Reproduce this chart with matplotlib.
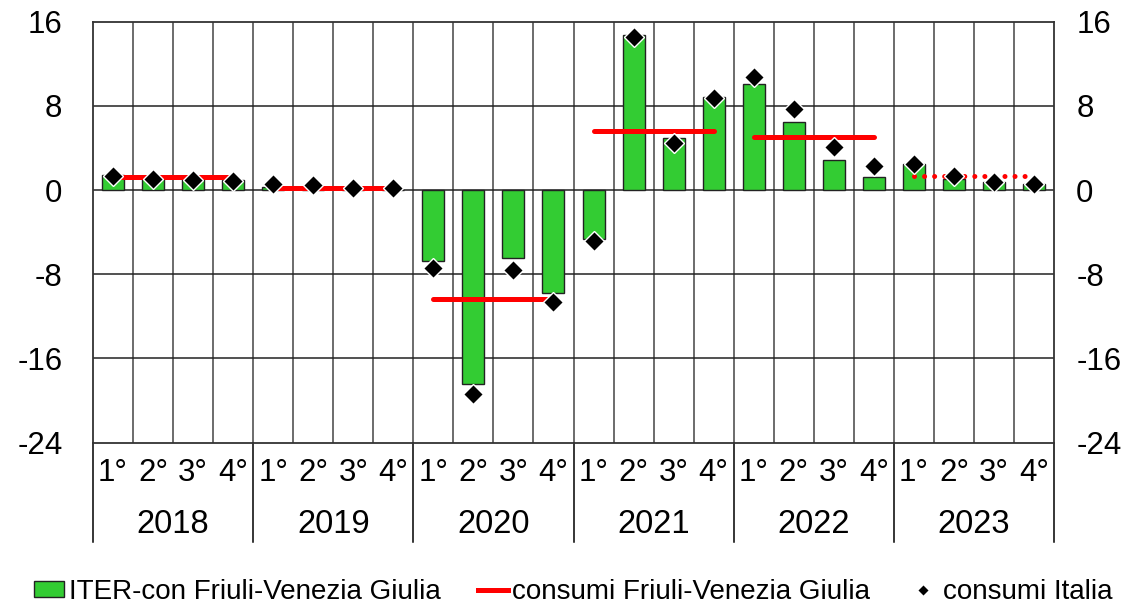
import matplotlib
matplotlib.use("Agg")
import matplotlib.pyplot as plt
from matplotlib.lines import Line2D
from matplotlib.patches import Patch
import numpy as np

plt.rcParams['font.family'] = ['Liberation Sans', 'DejaVu Sans']

years = ["2018", "2019", "2020", "2021", "2022", "2023"]
quarters = ["1°", "2°", "3°", "4°"]

iter_fvg = [1.4, 1.2, 1.2, 0.95,
            0.3, 0.0, 0.0, 0.0,
            -6.7, -18.4, -6.5, -9.8,
            -4.7, 14.7, 4.9, 8.8,
            10.1, 6.5, 2.9, 1.25,
            2.5, 1.05, 0.8, 0.6]
consumi_italia = [1.35, 1.05, 0.95, 0.85,
                  0.6, 0.45, 0.15, 0.2,
                  -7.4, -19.4, -7.6, -10.6,
                  -4.8, 14.5, 4.5, 8.7,
                  10.7, 7.7, 4.1, 2.3,
                  2.45, 1.3, 0.8, 0.55]
consumi_fvg = [1.2, 0.2, -10.4, 5.6, 5.0, 1.3]
yticks = [-24, -16, -8, 0, 8, 16]

fig = plt.figure(figsize=(11.3, 6.08), dpi=100)
ax = fig.add_axes([93/1130, 1 - 442.5/608, (1054-93)/1130, (442.5-21.7)/608])

n = len(iter_fvg)
x = np.arange(n)
ax.set_xlim(-0.5, n - 0.5)
ax.set_ylim(-24, 16)

# grid
for b in np.arange(0.5, n - 0.5, 1.0):
    ax.axvline(b, color='#444444', lw=1.1, zorder=0.5)
for yv in [-16, -8, 0, 8]:
    ax.axhline(yv, color='#222222', lw=1.1, zorder=0.5)

ax.bar(x, iter_fvg, width=0.55, color='#33CC33', edgecolor='#222222', linewidth=1.0, zorder=2)

for i, v in enumerate(consumi_fvg):
    xs = [4*i, 4*i + 3]
    if i == len(consumi_fvg) - 1:
        ax.plot(xs, [v, v], color='#FF0000', lw=3.6, ls=(0, (0.01, 2.0)), zorder=3,
                dash_capstyle='round')
    else:
        ax.plot(xs, [v, v], color='#FF0000', lw=3.6, ls='-', zorder=3,
                solid_capstyle='round')

ax.plot(x, consumi_italia, ls='none', marker='D', markersize=10.5, markerfacecolor='black',
        markeredgecolor='white', markeredgewidth=1.0, zorder=4)

ax.set_yticks(yticks)
ax.set_yticklabels([str(t) for t in yticks])
ax.tick_params(axis='y', length=0, labelsize=22.5, pad=22)
ax.set_xticks([])
for s in ax.spines.values():
    s.set_color('#333333')
    s.set_linewidth(1.3)

ax2 = ax.twinx()
ax2.set_ylim(-24, 16)
ax2.set_yticks(yticks)
ax2.set_yticklabels([str(t) for t in yticks])
ax2.tick_params(axis='y', length=0, labelsize=22.5, pad=16)
for s in ax2.spines.values():
    s.set_visible(False)

trans = ax.get_xaxis_transform()
for i in range(n):
    ax.text(x[i], -0.073, quarters[i % 4], transform=trans, ha='center', va='center',
            fontsize=22.5, clip_on=False)
for j, yr in enumerate(years):
    ax.text(4*j + 1.5, -0.195, yr, transform=trans, ha='center', va='center',
            fontsize=23.5, clip_on=False)
for b in np.arange(-0.5, n, 4):
    ax.add_line(Line2D([b, b], [0, -0.237], transform=trans, color='black', lw=1.1, clip_on=False))

handles = [Patch(facecolor='#33CC33', edgecolor='#222222', linewidth=1.0),
           Line2D([], [], color='#FF0000', lw=3.6),
           Line2D([], [], ls='none', marker='D', markersize=6.5, markerfacecolor='black',
                  markeredgecolor='white')]
labels = ["ITER-con Friuli-Venezia Giulia", "consumi Friuli-Venezia Giulia", "consumi Italia"]
fig.legend(handles, labels, loc='center', bbox_to_anchor=(0.5 + 8/1130, 1 - 592/608), ncol=3,
           frameon=False, fontsize=20, handlelength=1.1, handletextpad=0.15,
           columnspacing=1.35, handleheight=0.5, borderaxespad=0, borderpad=0)

fig.savefig("out.png", dpi=100)
